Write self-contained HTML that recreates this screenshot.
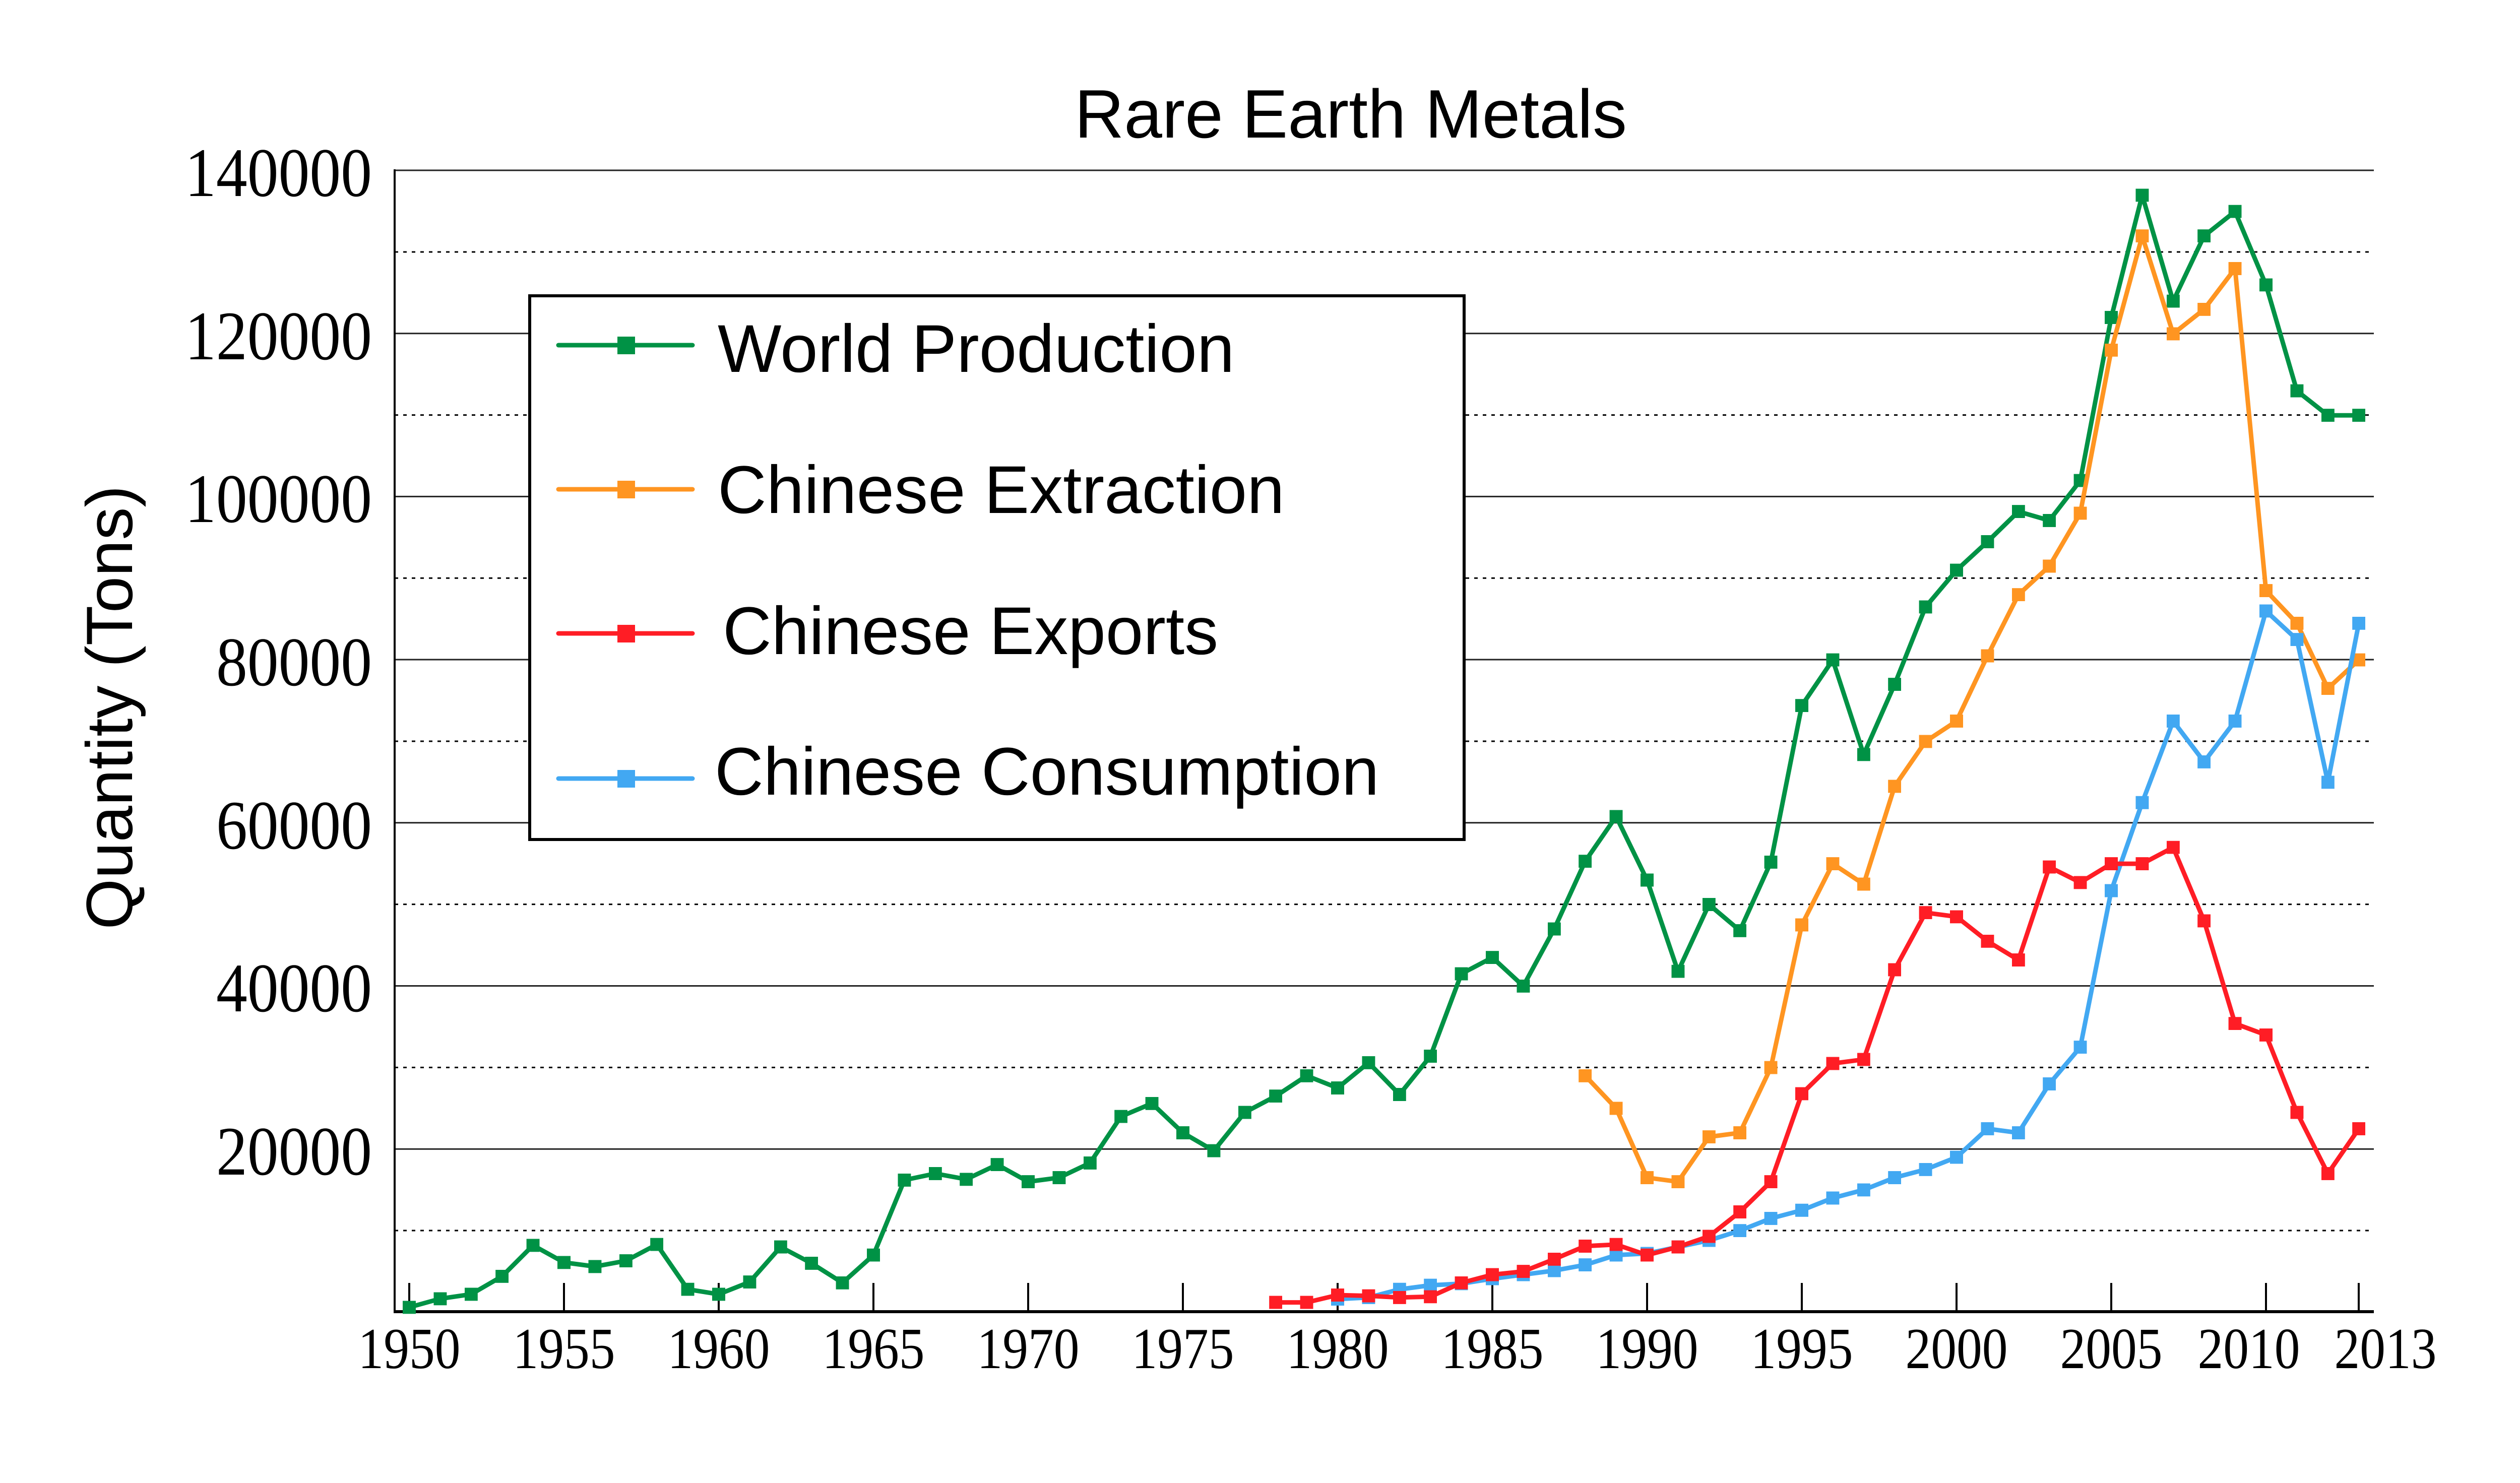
<!DOCTYPE html>
<html><head><meta charset="utf-8"><style>html,body{margin:0;padding:0;background:#fff}svg{display:block}</style></head>
<body>
<svg xmlns="http://www.w3.org/2000/svg" width="5013" height="2943" viewBox="0 0 5013 2943">
<defs>
<marker id="mg" viewBox="0 0 10 10" refX="5" refY="5" markerUnits="userSpaceOnUse" markerWidth="0.4235" markerHeight="1.607" preserveAspectRatio="none"><rect width="10" height="10" fill="#009245"/></marker>
<marker id="mo" viewBox="0 0 10 10" refX="5" refY="5" markerUnits="userSpaceOnUse" markerWidth="0.4235" markerHeight="1.607" preserveAspectRatio="none"><rect width="10" height="10" fill="#ff9521"/></marker>
<marker id="mr" viewBox="0 0 10 10" refX="5" refY="5" markerUnits="userSpaceOnUse" markerWidth="0.4235" markerHeight="1.607" preserveAspectRatio="none"><rect width="10" height="10" fill="#ff1d25"/></marker>
<marker id="mb" viewBox="0 0 10 10" refX="5" refY="5" markerUnits="userSpaceOnUse" markerWidth="0.4235" markerHeight="1.607" preserveAspectRatio="none"><rect width="10" height="10" fill="#42a8f2"/></marker>
</defs>
<rect width="5013" height="2943" fill="#fff"/>
<g stroke="#222" stroke-width="3">
<line x1="783" y1="338" x2="4710" y2="338"/>
<line x1="783" y1="661.7" x2="4710" y2="661.7"/>
<line x1="783" y1="985.4" x2="4710" y2="985.4"/>
<line x1="783" y1="1309" x2="4710" y2="1309"/>
<line x1="783" y1="1632.8" x2="4710" y2="1632.8"/>
<line x1="783" y1="1956.5" x2="4710" y2="1956.5"/>
<line x1="783" y1="2280.2" x2="4710" y2="2280.2"/>
</g>
<g stroke="#000" stroke-width="3" stroke-dasharray="7,10">
<line x1="783" y1="500" x2="4710" y2="500"/>
<line x1="783" y1="823.6" x2="4710" y2="823.6"/>
<line x1="783" y1="1147.2" x2="4710" y2="1147.2"/>
<line x1="783" y1="1471" x2="4710" y2="1471"/>
<line x1="783" y1="1794.6" x2="4710" y2="1794.6"/>
<line x1="783" y1="2118.4" x2="4710" y2="2118.4"/>
<line x1="783" y1="2442" x2="4710" y2="2442"/>
</g>
<line x1="783" y1="336" x2="783" y2="2604" stroke="#000" stroke-width="4"/>
<line x1="781" y1="2603" x2="4710" y2="2603" stroke="#000" stroke-width="6"/>
<g stroke="#000" stroke-width="4">
<line x1="812" y1="2546" x2="812" y2="2603"/><line x1="1119" y1="2546" x2="1119" y2="2603"/>
<line x1="1426" y1="2546" x2="1426" y2="2603"/><line x1="1733" y1="2546" x2="1733" y2="2603"/>
<line x1="2040" y1="2546" x2="2040" y2="2603"/><line x1="2347" y1="2546" x2="2347" y2="2603"/>
<line x1="2654" y1="2546" x2="2654" y2="2603"/><line x1="2961" y1="2546" x2="2961" y2="2603"/>
<line x1="3268" y1="2546" x2="3268" y2="2603"/><line x1="3575" y1="2546" x2="3575" y2="2603"/>
<line x1="3882" y1="2546" x2="3882" y2="2603"/><line x1="4189" y1="2546" x2="4189" y2="2603"/>
<line x1="4496" y1="2546" x2="4496" y2="2603"/><line x1="4680" y1="2546" x2="4680" y2="2603"/>
</g>
<g font-family="Liberation Serif, serif" font-size="116" fill="#000" text-anchor="middle" lengthAdjust="spacingAndGlyphs">
<text x="812" y="2715" textLength="203" lengthAdjust="spacingAndGlyphs">1950</text>
<text x="1119" y="2715" textLength="203" lengthAdjust="spacingAndGlyphs">1955</text>
<text x="1426" y="2715" textLength="203" lengthAdjust="spacingAndGlyphs">1960</text>
<text x="1733" y="2715" textLength="203" lengthAdjust="spacingAndGlyphs">1965</text>
<text x="2040" y="2715" textLength="203" lengthAdjust="spacingAndGlyphs">1970</text>
<text x="2347" y="2715" textLength="203" lengthAdjust="spacingAndGlyphs">1975</text>
<text x="2654" y="2715" textLength="203" lengthAdjust="spacingAndGlyphs">1980</text>
<text x="2961" y="2715" textLength="203" lengthAdjust="spacingAndGlyphs">1985</text>
<text x="3268" y="2715" textLength="203" lengthAdjust="spacingAndGlyphs">1990</text>
<text x="3575" y="2715" textLength="203" lengthAdjust="spacingAndGlyphs">1995</text>
<text x="3882" y="2715" textLength="203" lengthAdjust="spacingAndGlyphs">2000</text>
<text x="4189" y="2715" textLength="203" lengthAdjust="spacingAndGlyphs">2005</text>
<text x="4462" y="2715" textLength="203" lengthAdjust="spacingAndGlyphs">2010</text>
<text x="4733" y="2715" textLength="203" lengthAdjust="spacingAndGlyphs">2013</text>
</g>
<g font-family="Liberation Serif, serif" font-size="138" fill="#000" text-anchor="end">
<text x="738" y="389" textLength="371" lengthAdjust="spacingAndGlyphs">140000</text>
<text x="738" y="713" textLength="371" lengthAdjust="spacingAndGlyphs">120000</text>
<text x="738" y="1036" textLength="371" lengthAdjust="spacingAndGlyphs">100000</text>
<text x="738" y="1360" textLength="309" lengthAdjust="spacingAndGlyphs">80000</text>
<text x="738" y="1684" textLength="309" lengthAdjust="spacingAndGlyphs">60000</text>
<text x="738" y="2007" textLength="309" lengthAdjust="spacingAndGlyphs">40000</text>
<text x="738" y="2331" textLength="309" lengthAdjust="spacingAndGlyphs">20000</text>
</g>
<text x="2680" y="273" font-family="Liberation Sans, sans-serif" font-size="136" text-anchor="middle">Rare Earth Metals</text>
<text transform="translate(262,1404) rotate(-90)" font-family="Liberation Sans, sans-serif" font-size="130" text-anchor="middle">Quantity (Tons)</text>
<g transform="translate(812,2604) scale(61.4,-16.18)" fill="none" stroke-width="9" stroke-linejoin="round">
<polyline vector-effect="non-scaling-stroke" stroke="#009245" marker-start="url(#mg)" marker-mid="url(#mg)" marker-end="url(#mg)" points="0,0.6 1,1.65 2,2.2 3,4.4 4,8.2 5,6.1 6,5.6 7,6.3 8,8.3 9,2.8 10,2.2 11,3.7 12,8 13,6 14,3.6 15,7 16,16.2 17,17 18,16.3 19,18.1 20,16 21,16.5 22,18.3 23,24 24,25.6 25,22 26,19.8 27,24.5 28,26.5 29,29 30,27.5 31,30.6 32,26.7 33,31.4 34,41.5 35,43.5 36,40 37,47 38,55.3 39,60.8 40,53 41,41.8 42,50 43,46.8 44,55.2 45,74.4 46,80 47,68.4 48,77 49,86.5 50,91 51,94.5 52,98.2 53,97.1 54,102 55,122 56,137 57,124 58,132 59,135 60,126 61,113 62,110 63,110"/>
<polyline vector-effect="non-scaling-stroke" stroke="#ff9521" marker-start="url(#mo)" marker-mid="url(#mo)" marker-end="url(#mo)" points="38,29 39,25 40,16.5 41,16 42,21.5 43,22 44,30 45,47.5 46,55 47,52.5 48,64.5 49,70 50,72.5 51,80.5 52,88 53,91.5 54,98 55,118 56,132 57,120 58,123 59,128 60,88.5 61,84.5 62,76.5 63,80"/>
<polyline vector-effect="non-scaling-stroke" stroke="#42a8f2" marker-start="url(#mb)" marker-mid="url(#mb)" marker-end="url(#mb)" points="30,1.6 31,1.8 32,2.8 33,3.3 34,3.5 35,4.1 36,4.6 37,5.1 38,5.8 39,7 40,7.2 41,8 42,8.8 43,10 44,11.5 45,12.5 46,14 47,15 48,16.5 49,17.5 50,19 51,22.5 52,22 53,28 54,32.5 55,51.7 56,62.5 57,72.5 58,67.5 59,72.5 60,86 61,82.5 62,65 63,84.5"/>
<polyline vector-effect="non-scaling-stroke" stroke="#ff1d25" marker-start="url(#mr)" marker-mid="url(#mr)" marker-end="url(#mr)" points="28,1.2 29,1.2 30,2.1 31,2 32,1.8 33,1.9 34,3.6 35,4.6 36,5 37,6.5 38,8.1 39,8.3 40,7 41,8 42,9.3 43,12.3 44,16 45,26.8 46,30.5 47,31 48,42 49,49 50,48.5 51,45.5 52,43.2 53,54.6 54,52.7 55,55 56,55 57,57 58,48 59,35.4 60,34 61,24.5 62,17 63,22.5"/>
</g>
<rect x="1051" y="587" width="1854" height="1079" fill="#fff" stroke="#000" stroke-width="6"/>
<g stroke-width="9" stroke-linecap="round">
<line x1="1108" y1="685" x2="1374" y2="685" stroke="#009245"/>
<line x1="1108" y1="971" x2="1374" y2="971" stroke="#ff9521"/>
<line x1="1108" y1="1257" x2="1374" y2="1257" stroke="#ff1d25"/>
<line x1="1108" y1="1545" x2="1374" y2="1545" stroke="#42a8f2"/>
</g>
<rect x="1225" y="668" width="35" height="35" fill="#009245"/>
<rect x="1225" y="954" width="35" height="35" fill="#ff9521"/>
<rect x="1225" y="1240" width="35" height="35" fill="#ff1d25"/>
<rect x="1225" y="1528" width="35" height="35" fill="#42a8f2"/>
<g font-family="Liberation Sans, sans-serif" font-size="134" fill="#000">
<text x="1424" y="738">World Production</text>
<text x="1424" y="1018">Chinese Extraction</text>
<text x="1434" y="1298">Chinese Exports</text>
<text x="1418" y="1577">Chinese Consumption</text>
</g>
</svg>
</body></html>
